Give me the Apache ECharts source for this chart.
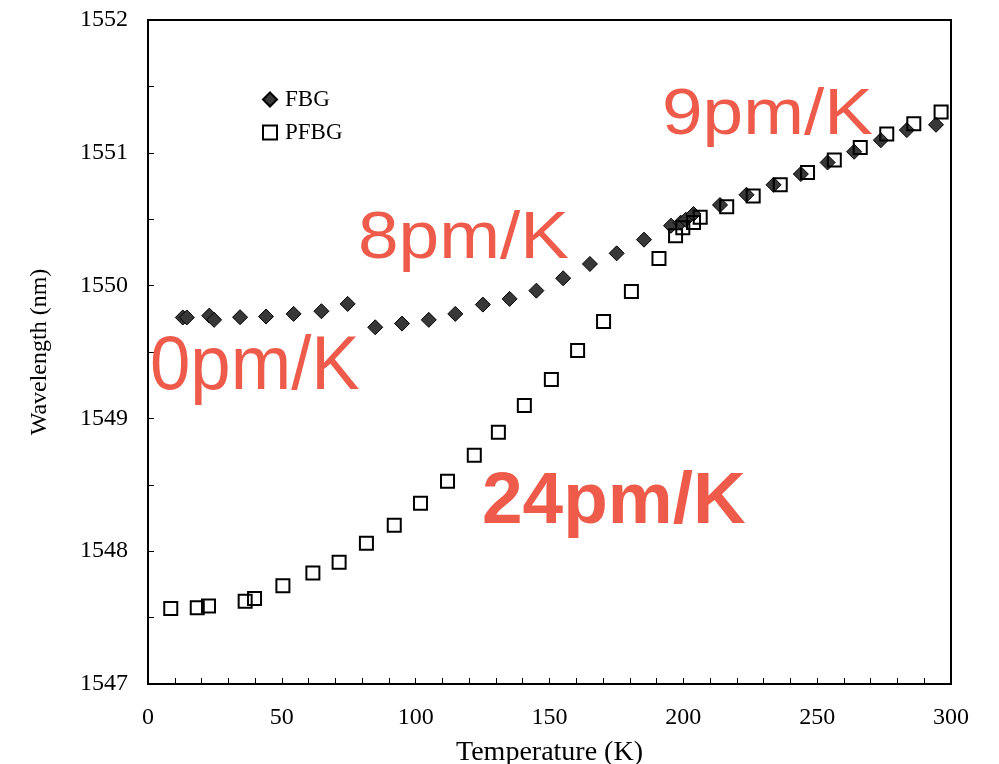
<!DOCTYPE html>
<html>
<head>
<meta charset="utf-8">
<script src="https://cdn.jsdelivr.net/npm/echarts@6/dist/echarts.min.js"></script>
<style>html,body{margin:0;padding:0;background:#fff;}#c{width:999px;height:764px;}</style>
</head>
<body>
<div id="c"></div>
<script>
// Temperature (K) and wavelength (nm)
var fbgT = [13, 14.5, 22.9, 24.7, 34.4, 44.1, 54.4, 64.8, 74.6, 84.9, 94.9, 104.9, 114.8, 125.1, 135.1, 145.1, 155.1, 165.1, 175.1, 185.3, 195.4, 199.0, 200.9, 203.8, 213.7, 223.6, 233.7, 243.9, 253.9, 263.8, 273.8, 283.5, 294.4];
var fbgW = [1549.76, 1549.76, 1549.774, 1549.742, 1549.762, 1549.767, 1549.787, 1549.807, 1549.862, 1549.686, 1549.714, 1549.742, 1549.787, 1549.857, 1549.900, 1549.962, 1550.055, 1550.163, 1550.243, 1550.346, 1550.451, 1550.474, 1550.496, 1550.539, 1550.607, 1550.684, 1550.759, 1550.840, 1550.927, 1551.008, 1551.095, 1551.171, 1551.211];
var pfbgT = [8.5, 18.4, 22.6, 36.3, 39.8, 50.4, 61.6, 71.4, 81.6, 92.0, 101.8, 111.9, 121.9, 130.9, 140.6, 150.7, 160.5, 170.2, 180.6, 190.9, 197.1, 199.8, 203.8, 206.3, 216.2, 226.1, 236.2, 246.4, 256.4, 266.1, 276.0, 286.1, 296.3];
var pfbgW = [1547.569, 1547.574, 1547.587, 1547.624, 1547.644, 1547.739, 1547.836, 1547.917, 1548.060, 1548.195, 1548.361, 1548.526, 1548.722, 1548.895, 1549.098, 1549.293, 1549.511, 1549.729, 1549.955, 1550.205, 1550.376, 1550.436, 1550.476, 1550.514, 1550.594, 1550.674, 1550.759, 1550.851, 1550.945, 1551.039, 1551.141, 1551.219, 1551.308];
var seriesNames = ['FBG', 'PFBG'];
var xTitle = 'Temperature (K)';
var yTitle = 'Wavelength (nm)';
var annotations = ['9pm/K', '8pm/K', '0pm/K', '24pm/K'];

function zip(a, b) { return a.map(function (v, i) { return [v, b[i]]; }); }

var serif = '"Liberation Serif", "Times New Roman", serif';
var sans = '"Liberation Sans", Arial, Helvetica, sans-serif';
var red = '#EE5B4B';

function annot(txt, x, y, size, weight, sx) {
  return {type: 'text', x: x, y: y, scaleX: sx, z: 10,
    style: {text: txt, font: weight + ' ' + size + 'px ' + sans, fill: red, align: 'left', verticalAlign: 'top'}};
}

var chart = echarts.init(document.getElementById('c'), null, {renderer: 'canvas'});
chart.setOption({
  backgroundColor: '#fff',
  animation: false,
  grid: {left: 148, right: 48, top: 20, bottom: 80, outerBoundsMode: 'none', containLabel: false,
    show: true, borderColor: '#000', borderWidth: 2, backgroundColor: 'transparent'},
  legend: {
    orient: 'vertical', left: 262, top: 88, padding: 0, itemWidth: 14, itemHeight: 14, itemGap: 10,
    textStyle: {fontFamily: serif, fontSize: 23, color: '#000', padding: [0, 0, 0, 3]},
    data: seriesNames
  },
  xAxis: {
    type: 'value', min: 0, max: 300, interval: 50,
    name: xTitle, nameLocation: 'middle', nameGap: 55,
    nameTextStyle: {fontFamily: serif, fontSize: 28, color: '#000'},
    axisLine: {show: true, lineStyle: {color: '#000', width: 2}},
    axisTick: {show: true, inside: true, length: 6, lineStyle: {color: '#000', width: 1}},
    minorTick: {show: true, splitNumber: 5, length: 6, lineStyle: {color: '#000', width: 1}},
    axisLabel: {fontFamily: serif, fontSize: 24, color: '#000', margin: 22},
    splitLine: {show: false}
  },
  yAxis: {
    type: 'value', min: 1547, max: 1552, interval: 1,
    name: yTitle, nameLocation: 'middle', nameGap: 96,
    nameTextStyle: {fontFamily: serif, fontSize: 24, color: '#000'},
    axisLine: {show: true, lineStyle: {color: '#000', width: 2}},
    axisTick: {show: true, inside: true, length: 6, lineStyle: {color: '#000', width: 1}},
    minorTick: {show: true, splitNumber: 2, length: 6, lineStyle: {color: '#000', width: 1}},
    axisLabel: {fontFamily: serif, fontSize: 24, color: '#000', margin: 20, formatter: function (v) { return String(v); }},
    splitLine: {show: false}
  },
  series: [
    {
      name: seriesNames[0], type: 'scatter', symbol: 'diamond', symbolSize: 15,
      itemStyle: {color: '#383838', borderColor: '#000', borderWidth: 1, opacity: 1},
      data: zip(fbgT, fbgW), z: 2
    },
    {
      name: seriesNames[1], type: 'scatter', symbol: 'rect', symbolSize: 13,
      itemStyle: {color: 'rgba(255,255,255,0)', borderColor: '#000', borderWidth: 2, opacity: 1},
      data: zip(pfbgT, pfbgW), z: 3
    }
  ],
  graphic: [
    annot(annotations[0], 662, 84, 64, 'normal', 1.14),
    annot(annotations[1], 358, 206, 67, 'normal', 1.09),
    annot(annotations[2], 150, 330, 76, 'normal', 0.955),
    annot(annotations[3], 482, 466, 73, 'bold', 1)
  ]
});
</script>
</body>
</html>
